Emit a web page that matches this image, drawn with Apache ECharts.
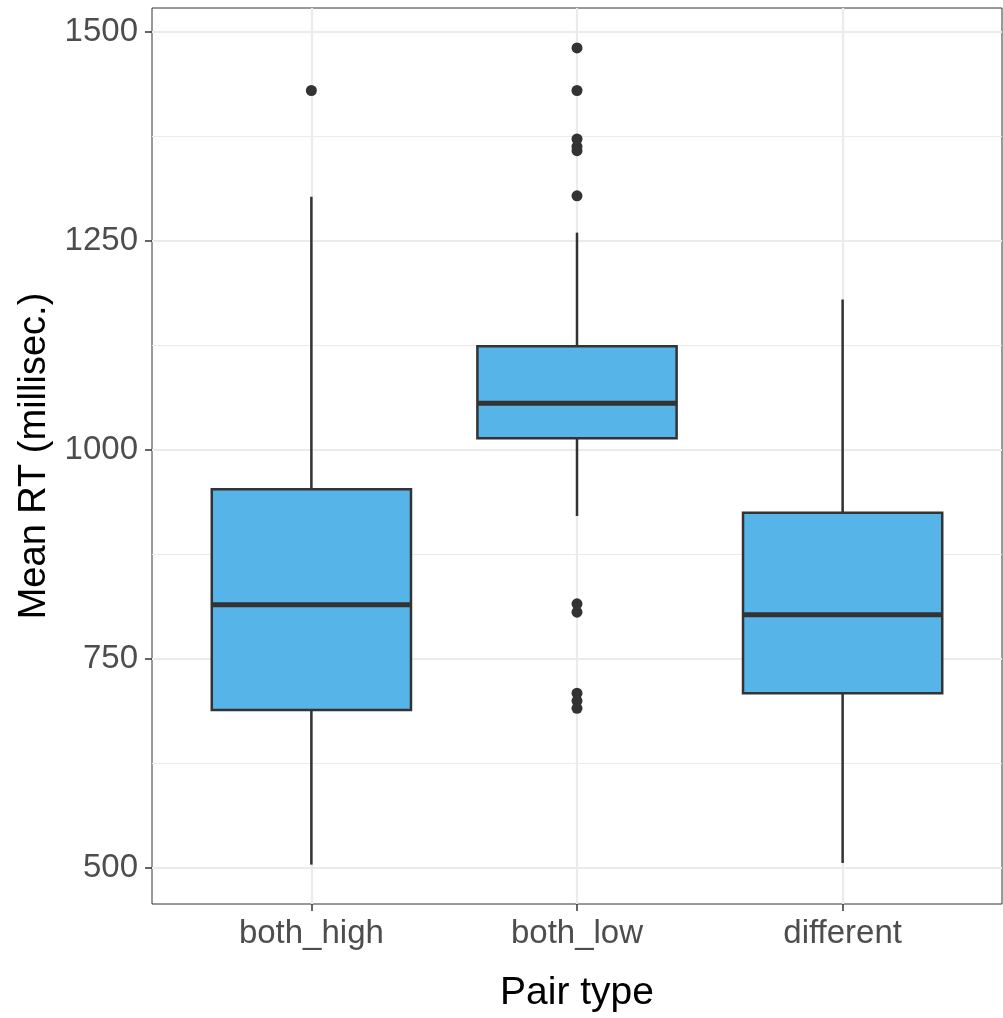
<!DOCTYPE html>
<html>
<head>
<meta charset="utf-8">
<script src="https://cdn.jsdelivr.net/npm/echarts@6/dist/echarts.min.js"></script>
<style>
  html, body { margin: 0; padding: 0; background: #fff; }
  #chart { width: 1003px; height: 1018px; }
</style>
</head>
<body>
<div id="chart"></div>
<script>
// categories on the x axis (positions 1, 2, 3)
const categories = ["both_high", "both_low", "different"];
const positions = [1, 2, 3];

// box statistics
const whiskerLow = [504, 921, 506];
const q1 = [689, 1014, 709];
const medians = [815, 1056, 803];
const q3 = [953, 1124, 925];
const whiskerHigh = [1303, 1260, 1180];

// outliers: which box, value
const outlierPos = [1, 2, 2, 2, 2, 2, 2, 2, 2, 2, 2, 2];
const outlierVal = [1430, 1481, 1430, 1372, 1363, 1358, 1304, 816, 806, 709, 700, 691];

// axis ticks and grid lines
const yTicks = [500, 750, 1000, 1250, 1500];
const yMinor = [625, 875, 1125, 1375];

const boxData = positions.map((p, i) => [p, whiskerLow[i], q1[i], medians[i], q3[i], whiskerHigh[i]]);
const outlierData = outlierPos.map((p, i) => [p, outlierVal[i]]);

const lineColor = "#333333";

let myChart = echarts.init(document.getElementById("chart"));

myChart.setOption({
  animation: false,
  textStyle: { fontFamily: "Liberation Sans, Arial, sans-serif" },
  grid: {
    left: 152,
    right: 1,
    top: 8,
    bottom: 114,
    show: true,
    borderColor: lineColor,
    borderWidth: 1,
    backgroundColor: "#fff",
  },
  xAxis: {
    type: "value",
    min: 0.4,
    max: 3.6,
    name: "Pair type",
    nameLocation: "middle",
    nameGap: 70,
    nameTextStyle: { color: "#000", fontSize: 39 },
    axisLine: { show: false },
    splitLine: { show: false },
    axisTick: {
      show: true,
      customValues: positions,
      length: 7,
      lineStyle: { color: lineColor, width: 1.5 },
    },
    axisLabel: {
      customValues: positions,
      formatter: (v) => categories[Math.round(v) - 1] || "",
      color: "#4d4d4d",
      fontSize: 33,
      margin: 13,
    },
  },
  yAxis: {
    type: "value",
    min: 456.9,
    max: 1528.7,
    name: "Mean RT (millisec.)",
    nameLocation: "middle",
    nameGap: 98,
    nameTextStyle: { color: "#000", fontSize: 38 },
    axisLine: { show: false },
    splitLine: { show: false },
    axisTick: {
      show: true,
      customValues: yTicks,
      length: 7,
      lineStyle: { color: lineColor, width: 1.5 },
    },
    axisLabel: {
      customValues: yTicks,
      formatter: (v) => String(v),
      color: "#4d4d4d",
      fontSize: 33,
      margin: 14,
    },
  },
  series: [
    {
      // grid lines
      type: "line",
      data: [],
      z: 1,
      silent: true,
      markLine: {
        z: 1,
        silent: true,
        symbol: ["none", "none"],
        label: { show: false },
        emphasis: { disabled: true },
        data: [
          ...yMinor.map((v) => ({ yAxis: v, lineStyle: { color: "#ebebeb", width: 1.2, type: "solid" } })),
          ...yTicks.map((v) => ({ yAxis: v, lineStyle: { color: "#ebebeb", width: 2.2, type: "solid" } })),
          ...positions.map((v) => ({ xAxis: v, lineStyle: { color: "#ebebeb", width: 2.2, type: "solid" } })),
        ],
      },
    },
    {
      type: "custom",
      z: 3,
      data: boxData,
      encode: { x: 0, y: [1, 2, 3, 4, 5] },
      renderItem: (params, api) => {
        const x = api.value(0);
        const half = api.size([0.75, 0])[0] / 2;
        const pLow = api.coord([x, api.value(1)]);
        const pQ1 = api.coord([x, api.value(2)]);
        const pMed = api.coord([x, api.value(3)]);
        const pQ3 = api.coord([x, api.value(4)]);
        const pHigh = api.coord([x, api.value(5)]);
        const stroke = { stroke: lineColor, lineWidth: 2.5 };
        return {
          type: "group",
          children: [
            { type: "line", shape: { x1: pLow[0], y1: pLow[1], x2: pQ1[0], y2: pQ1[1] }, style: stroke },
            { type: "line", shape: { x1: pQ3[0], y1: pQ3[1], x2: pHigh[0], y2: pHigh[1] }, style: stroke },
            {
              type: "rect",
              shape: { x: pQ3[0] - half, y: pQ3[1], width: half * 2, height: pQ1[1] - pQ3[1] },
              style: { fill: "#56B4E9", stroke: lineColor, lineWidth: 2.5 },
            },
            {
              type: "line",
              shape: { x1: pMed[0] - half, y1: pMed[1], x2: pMed[0] + half, y2: pMed[1] },
              style: { stroke: lineColor, lineWidth: 5 },
            },
          ],
        };
      },
    },
    {
      type: "scatter",
      z: 4,
      data: outlierData,
      symbol: "circle",
      symbolSize: 11,
      itemStyle: { color: lineColor, opacity: 1 },
    },
  ],
});
</script>
</body>
</html>
